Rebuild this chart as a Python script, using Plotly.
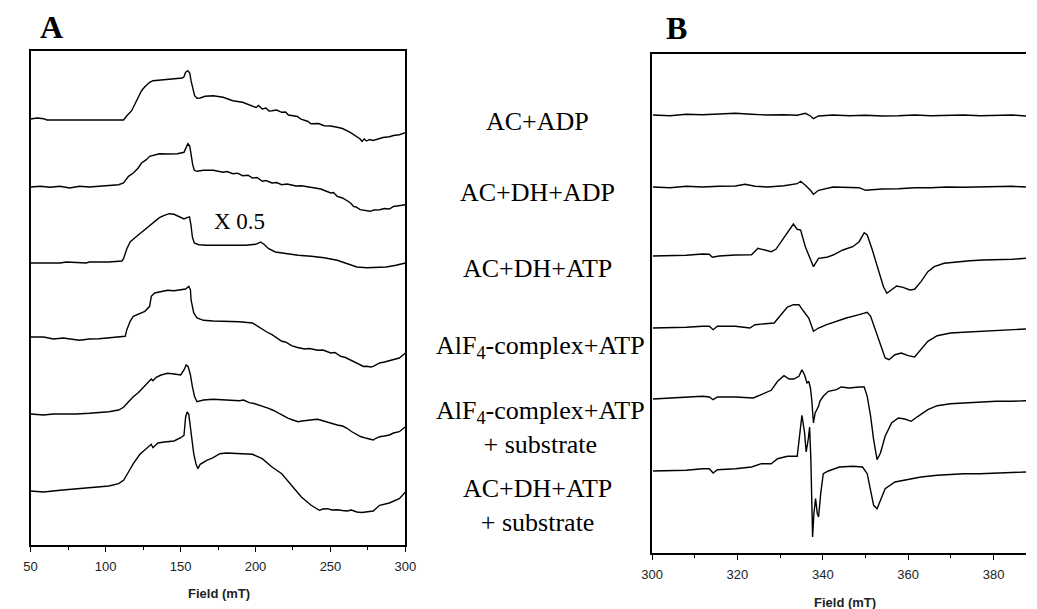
import plotly.graph_objects as go

# ---------------- Panel A (field in mT, signal in arbitrary units) ----------------
a1_field = [50.0, 54.4, 58.7, 60.9, 112.0, 114.2, 117.4, 119.6, 121.8, 124.0, 126.2, 129.4, 131.6, 137.0, 143.6, 149.0,
            151.2, 152.3, 153.4, 154.9, 156.2, 157.0, 158.4, 159.4, 161.0, 163.1, 166.4, 171.8, 178.4, 184.9, 191.4,
            198.0, 200.5, 202.0, 204.5, 207.0, 209.0, 211.0, 214.0, 217.5, 220.0, 222.0, 224.1, 228.0, 230.0, 232.8,
            235.0, 237.0, 239.3, 242.0, 245.8, 250.0, 254.5, 258.0, 263.2, 266.0, 269.8, 271.0, 272.5, 274.1, 276.0,
            278.5, 282.8, 285.0, 289.3, 292.0, 295.9, 300.0]
a1_sig = [1, 2, 1.3, 0, 0, 4.3, 9.3, 16, 22.7, 29.3, 33.3, 37.7, 39.3, 40, 40.3, 41,
          42, 43.3, 47.7, 49.3, 46.7, 39.3, 29.3, 24.3, 21.7, 22, 23.7, 24.3, 22.7, 19.3, 17.7,
          14.3, 12.5, 14.5, 11, 12, 9, 9.3, 10, 7.7, 8, 5, 4.3, 3.5, 1, -0.7,
          -1.5, -3.8, -4, -3.5, -5.7, -6, -7.3, -8.5, -12.3, -15, -19, -21.5, -19, -21, -19.5,
          -20.5, -18, -17.5, -16.7, -15.5, -14.7, -12.7]

a2_field = [50.0, 56.5, 63.1, 69.6, 76.1, 82.6, 89.2, 95.7, 102.2, 108.7, 112.0, 115.3, 118.5, 121.8, 124.0, 127.2,
            129.4, 132.7, 135.9, 141.4, 147.9, 152.3, 153.4, 154.9, 156.2, 157.0, 158.1, 159.2, 161.0, 165.3, 171.8,
            178.4, 181.0, 184.9, 188.0, 191.4, 195.0, 198.0, 201.0, 204.5, 207.0, 211.0, 214.0, 217.5, 221.0, 224.1,
            227.0, 230.6, 234.0, 237.1, 240.0, 243.6, 246.0, 250.2, 252.0, 254.5, 258.0, 261.1, 263.0, 265.4, 267.0,
            269.8, 273.0, 276.3, 279.0, 282.8, 286.0, 289.3, 292.0, 295.9, 300.0]
a2_sig = [0, 0.7, -0.3, 0.7, -1, 0.7, 0, 0.7, 1.3, 2.3, 4, 10.7, 14, 19, 24, 27.3,
          30.7, 32.3, 33.3, 33, 33.3, 34.7, 39, 43.3, 40.7, 32.3, 22.3, 16.7, 15.7, 16.7, 16.7,
          14.7, 15.5, 13.3, 13.8, 11.3, 11.8, 9, 9.5, 5.7, 6.5, 4, 4.5, 2.3, 3, 2,
          1, 1.3, 0.3, 0, -1, -2, -3.5, -6, -5.5, -9.3, -11, -14.3, -15.5, -19.3, -20,
          -22.7, -23.5, -24.3, -23, -22.7, -21.5, -22, -19.5, -18.7, -17.7]

a3_field = [50.0, 58.7, 69.6, 73.9, 80.5, 87.0, 89.2, 102.2, 110.9, 112.0, 114.2, 116.4, 119.6, 122.9, 126.2, 129.4,
            132.7, 135.9, 139.2, 142.5, 145.7, 149.0, 152.3, 154.4, 156.0, 157.0, 157.9, 159.2, 162.1, 167.5, 176.2,
            184.9, 193.6, 200.1, 203.4, 205.6, 208.8, 213.2, 219.7, 228.4, 237.1, 245.8, 254.5, 261.1, 267.6, 274.1,
            280.5, 287.2, 293.7, 300.0]
a3_sig = [0, 0, 0, 1, 0.7, 0, 1, 1, 2, 4.3, 14.3, 21, 25.3, 29.3, 32.7, 36.7,
          41, 45.3, 47.7, 49.3, 48.7, 46.7, 44, 45.3, 46, 37.7, 26, 20, 18.3, 17.7, 17.7,
          17.7, 17.7, 18.7, 21, 18.7, 14.3, 11, 9.3, 7.7, 6.7, 5.3, 2.7, -0.7, -4, -4.7,
          -4, -4, -2.3, 0]

a4_field = [50.0, 58.7, 65.2, 71.8, 82.6, 89.2, 95.7, 102.2, 108.7, 113.1, 114.2, 116.4, 118.5, 122.9, 126.2, 129.4,
            130.5, 132.7, 137.0, 141.4, 145.7, 150.1, 153.4, 155.5, 156.6, 157.0, 157.9, 158.8, 161.0, 165.3, 171.8,
            180.5, 189.3, 198.0, 201.0, 204.5, 207.0, 211.0, 214.0, 217.5, 220.0, 224.1, 228.0, 232.8, 236.0, 241.5,
            245.0, 250.2, 253.0, 256.7, 260.0, 263.2, 266.0, 269.8, 272.0, 274.1, 277.0, 278.5, 282.8, 286.0, 289.3,
            292.0, 295.9, 300.0]
a4_sig = [0, 0, -2, -1, -3.3, -2, -1.7, -1, 0, 0.7, 7.3, 15.7, 20.7, 23.3, 25.7, 30.7,
          40.7, 44, 45.7, 46.7, 46.3, 47.3, 48, 50.7, 47.3, 37.3, 30.7, 24, 19, 16.7, 16,
          15.7, 15.3, 14, 11, 8, 5.5, 2.3, -1, -4.3, -5, -8.7, -10.5, -12, -11.5, -13.3,
          -13, -16, -15.5, -19.3, -20.5, -22.7, -25, -27.7, -29.5, -29.3, -30, -29.3, -26, -25, -23.7,
          -22.5, -21, -16]

a5_field = [50.0, 58.7, 65.2, 71.8, 80.5, 89.2, 95.7, 102.2, 108.7, 112.0, 115.3, 118.5, 121.8, 125.1, 128.3, 130.5,
            131.6, 133.8, 137.0, 141.4, 145.7, 150.1, 152.3, 153.8, 155.1, 156.6, 157.9, 159.4, 161.0, 165.3, 171.8,
            180.5, 189.3, 192.0, 195.8, 199.0, 202.3, 205.0, 208.8, 212.0, 215.4, 218.0, 221.9, 225.0, 228.4, 231.0,
            234.9, 238.0, 241.5, 244.0, 248.0, 251.0, 254.5, 258.0, 261.1, 264.0, 267.6, 270.0, 274.1, 276.0, 278.5,
            280.0, 282.8, 286.0, 289.3, 292.0, 295.9, 300.0]
a5_sig = [0, -1, 0, -0.3, 0, 0.7, 1.3, 2.3, 4, 6.7, 12.3, 17.3, 21.3, 26.7, 31.3, 35,
          33.3, 36.7, 39, 40.7, 40, 39, 44, 49, 47.3, 39, 27.3, 17.3, 12.3, 14, 14.7,
          14, 13.3, 14, 11.3, 10.5, 9, 8, 5.7, 3.5, 0.7, -1.5, -4.3, -6, -7.7, -7,
          -6, -5.8, -5.3, -6.5, -7.7, -9.5, -11, -12, -14.3, -17.5, -21, -22.5, -24.3, -25, -26,
          -24.5, -22.7, -22, -21, -19, -17.7, -12.7]

a6_field = [50.0, 58.7, 69.6, 80.5, 91.3, 102.2, 108.7, 112.0, 115.3, 118.5, 122.9, 127.2, 130.5, 131.6, 134.9, 139.2,
            145.7, 150.1, 152.3, 153.4, 154.4, 155.5, 156.6, 157.7, 158.8, 160.3, 161.6, 163.1, 167.5, 171.8, 176.2,
            180.5, 189.3, 198.0, 204.5, 211.0, 217.5, 224.1, 230.6, 237.1, 242.6, 245.0, 248.0, 251.0, 254.5, 258.0,
            261.1, 264.0, 267.6, 271.0, 274.1, 278.5, 282.8, 289.3, 295.9, 300.0]
a6_sig = [0, -1, 0.7, 2.3, 3.3, 5, 7.3, 10.7, 19, 27.3, 36.7, 42.3, 46.7, 43.3, 48, 49,
          50, 53.3, 55.7, 74, 79, 76.7, 62.3, 50.7, 37.3, 27.3, 22.3, 26.7, 30.7, 33.3, 37.3,
          38, 37.3, 36.7, 32.3, 24, 17.3, 5.7, -6, -14.3, -19.3, -18, -17.7, -19, -18.7, -19.5,
          -20, -19, -21, -21.5, -21, -20, -14.3, -12, -7.7, -1]

a_fields = [a1_field, a2_field, a3_field, a4_field, a5_field, a6_field]
a_signals = [a1_sig, a2_sig, a3_sig, a4_sig, a5_sig, a6_sig]
a_offsets = [425, 358, 282, 208, 131, 54]

# ---------------- Panel B ----------------
b1_field = [300.2, 304.2, 308.0, 311.8, 315.7, 319.5, 323.3, 327.1, 330.9, 334.0, 335.9, 337.1, 337.8, 339.0,
            342.4, 346.2, 350.0, 353.9, 357.7, 361.5, 365.3, 369.1, 373.0, 376.8, 380.6, 384.4, 387.6]
b1_sig = [0, -0.7, 0.7, 0.3, 1, 1.7, 0.7, 0, 0.3, -0.3, 1.7, -1, -3.7, -1,
          0, -0.7, -0.3, -1, -0.7, 0, -0.7, -0.3, 0, -0.7, -0.3, 0, -1]

b2_field = [300.2, 304.2, 308.0, 311.8, 315.7, 319.5, 321.8, 324.1, 327.1, 330.9, 334.0, 334.8, 335.9, 337.1,
            337.8, 339.0, 342.4, 346.2, 348.5, 350.0, 353.9, 357.7, 361.5, 365.3, 369.1, 373.0, 376.8, 380.6,
            384.4, 387.6]
b2_sig = [0, -0.7, 0.7, 0, 0.7, 1, 2.7, 0.7, 0, 1.3, 3.3, 5.7, 1.7, -3.3,
          -7.3, -3.3, 0, 0, -0.7, -3.3, -2, -1.7, -0.7, -0.7, 0, -0.3, 0, 0,
          0.7, 0]

b3_field = [300.2, 304.2, 308.0, 311.8, 313.4, 314.1, 315.7, 319.5, 323.3, 324.8, 326.4, 327.9, 329.0, 330.2,
            331.7, 333.1, 334.0, 334.8, 335.9, 337.1, 337.8, 339.0, 340.9, 342.4, 344.7, 347.0, 348.5, 349.7,
            350.4, 351.6, 353.1, 354.2, 355.0, 356.1, 357.3, 358.8, 360.4, 361.5, 363.0, 364.6, 366.1, 368.4,
            371.4, 374.5, 377.5, 380.6, 384.4, 387.6]
b3_sig = [0, 0, 0.7, 2, 1.7, -1.3, 0, 1, 1.3, 7.7, 6, 4.3, 6.7, 14.3,
          24.3, 32, 26.7, 26, 9.3, -4, -10.7, -2.3, -1.3, 1, 6, 9.3, 14.3, 23.3,
          21, 6, -14, -30.7, -37.3, -34, -30, -31.3, -34, -33.3, -25.7, -15.7, -10.7, -7.3,
          -5.7, -4.7, -4, -4, -3.3, -2.3]

b4_field = [300.2, 304.2, 308.0, 311.8, 313.4, 314.3, 315.3, 319.5, 322.9, 324.1, 327.1, 328.6, 330.2, 331.7,
            333.1, 334.4, 335.5, 336.7, 337.8, 339.0, 340.9, 343.2, 345.5, 348.5, 350.4, 351.2, 352.3, 353.5,
            354.6, 355.5, 356.9, 358.4, 360.0, 361.5, 363.0, 364.6, 366.8, 369.9, 373.0, 376.8, 380.6, 384.4,
            387.6]
b4_sig = [0, 0.3, 0.7, 1.7, 1.7, -1.7, 1.7, 1.7, 0, 3.3, 4.3, 5, 13.3, 21,
          23.3, 23.3, 16.7, 10, -3.3, 0, 3.3, 6.7, 10, 13.3, 15.7, 11.7, -1.7, -15,
          -30, -31.7, -26.7, -25, -27.7, -29, -21.7, -13.3, -7.7, -5, -4.3, -3.3, -2.3, -1.7,
          -1]

b5_field = [300.2, 304.2, 308.0, 311.8, 313.4, 314.3, 315.3, 319.5, 323.7, 325.6, 327.9, 329.4, 330.9, 332.1,
            333.2, 334.4, 335.1, 335.7, 336.3, 336.7, 337.1, 337.4, 337.8, 338.2, 338.6, 339.0, 339.3, 340.1,
            341.3, 343.2, 344.3, 346.2, 348.5, 349.7, 350.4, 351.2, 351.9, 352.7, 353.5, 354.6, 356.1, 357.7,
            359.2, 360.7, 362.3, 364.6, 366.8, 369.9, 373.0, 376.8, 380.6, 384.4, 387.6]
b5_sig = [0, 0.7, 1.3, 2.7, 2, -0.7, 2, 2, 1, 4.3, 8.7, 17.7, 23.3, 20,
          20, 22.7, 29.3, 24.3, 16, 17.7, 11, -0.7, -24, -14, -10.7, -7.3, -2.3, 2.7,
          7.7, 9.3, 12, 11, 12, 12, 2.7, -17.3, -40.7, -60.7, -54, -37.3, -24, -19,
          -20, -22.3, -17.3, -10.7, -6.7, -4.7, -4, -3, -2.3, -2.3, -1.7]

b6_field = [300.2, 304.2, 308.0, 311.8, 313.4, 314.3, 315.3, 319.5, 323.3, 325.6, 327.9, 329.4, 331.7, 334.0,
            334.6, 335.1, 335.7, 336.1, 336.6, 336.9, 337.2, 337.6, 337.9, 338.3, 338.7, 339.0, 339.5, 340.1,
            341.3, 343.9, 347.0, 349.3, 350.4, 351.2, 351.9, 352.7, 353.5, 354.6, 356.9, 360.0, 363.0, 366.8,
            369.9, 373.0, 376.8, 380.6, 384.4, 387.6]
b6_sig = [0, 0, 0.7, 2.3, 2.3, -2, 1.3, 2.3, 4, 7.3, 7.3, 12.3, 14.7, 14.7,
          37.3, 55.7, 39, 19, 32.3, 44, 10.7, -66, -42.7, -27.7, -42.7, -46, -22.7, -2.7,
          0, 4, 4.7, 4, -2.7, -19.3, -34.3, -37.7, -29.3, -17.7, -11, -8.7, -6, -4.3,
          -3.3, -2.7, -2.7, -2, -2, -1]

b_fields = [b1_field, b2_field, b3_field, b4_field, b5_field, b6_field]
b_signals = [b1_sig, b2_sig, b3_sig, b4_sig, b5_sig, b6_sig]
b_offsets = [438, 366, 297, 225, 154, 82]

labels = ["AC+ADP", "AC+DH+ADP", "AC+DH+ATP", "AlF<sub>4</sub>-complex+ATP",
          "AlF<sub>4</sub>-complex+ATP<br>+ substrate", "AC+DH+ATP<br>+ substrate"]

a_ticks = [50, 100, 150, 200, 250, 300]
b_ticks = [300, 320, 340, 360, 380]

W, H = 1037, 609
SERIF = "Liberation Serif, Times New Roman, serif"
SANS = "Liberation Sans, Arial, sans-serif"

fig = go.Figure()
for f, s, off in zip(a_fields, a_signals, a_offsets):
    fig.add_trace(go.Scatter(x=f, y=[v + off for v in s], mode="lines",
                             line=dict(color="black", width=1.4), xaxis="x", yaxis="y",
                             showlegend=False, hoverinfo="skip"))
for f, s, off in zip(b_fields, b_signals, b_offsets):
    fig.add_trace(go.Scatter(x=f, y=[v + off for v in s], mode="lines",
                             line=dict(color="black", width=1.4), xaxis="x2", yaxis="y2",
                             showlegend=False, hoverinfo="skip"))

xcommon = dict(showline=True, linecolor="black", linewidth=1.5, ticks="outside", ticklen=5,
               tickwidth=1, tickcolor="black", showgrid=False, zeroline=False,
               tickfont=dict(family=SANS, size=13, color="#222"), ticklabelstandoff=4)
ycommon = dict(showline=True, linecolor="black", linewidth=1.5, showticklabels=False,
               ticks="", showgrid=False, zeroline=False)

fig.update_layout(
    width=W, height=H, margin=dict(l=0, r=0, t=0, b=0),
    paper_bgcolor="white", plot_bgcolor="white",
    xaxis=dict(domain=[20 / W, 403 / W], range=[50, 300], tickvals=a_ticks, mirror=True,
               minor=dict(dtick=25, ticks="outside", ticklen=3, tickcolor="black", tickwidth=1),
               anchor="y", **xcommon),
    yaxis=dict(domain=[(H - 545) / H, (H - 51) / H], range=[0, 494], mirror=True,
               anchor="x", **ycommon),
    xaxis2=dict(domain=[655 / W, 1.0], range=[300, 387.6], tickvals=b_ticks, mirror=True,
                minor=dict(dtick=10, ticks="outside", ticklen=3, tickcolor="black", tickwidth=1),
                anchor="y2", **xcommon),
    yaxis2=dict(domain=[(H - 553) / H, (H - 54) / H], range=[0, 499], mirror=False,
                anchor="x2", **ycommon),
)

ann = []
# panel letters
ann.append(dict(text="<b>A</b>", x=41 / W, y=1 - 27 / H, xref="paper", yref="paper",
                showarrow=False, xanchor="center", yanchor="middle",
                font=dict(family=SERIF, size=32, color="black")))
ann.append(dict(text="<b>B</b>", x=680 / W, y=1 - 28 / H, xref="paper", yref="paper",
                showarrow=False, xanchor="center", yanchor="middle",
                font=dict(family=SERIF, size=32, color="black")))
# axis titles
ann.append(dict(text="<b>Field (mT)</b>", x=212 / W, y=1 - 593 / H, xref="paper", yref="paper",
                showarrow=False, xanchor="center", yanchor="middle",
                font=dict(family=SANS, size=13, color="#222")))
ann.append(dict(text="<b>Field (mT)</b>", x=852 / W, y=1 - 602 / H, xref="paper", yref="paper",
                showarrow=False, xanchor="center", yanchor="middle",
                font=dict(family=SANS, size=13, color="#222")))
# x 0.5 note
ann.append(dict(text="X 0.5", x=233 / W, y=1 - 221 / H, xref="paper", yref="paper",
                showarrow=False, xanchor="center", yanchor="middle",
                font=dict(family=SERIF, size=23, color="black")))
# sample labels
label_pos = [(538, 122), (538, 192), (538, 268), (541, 347), (541, 427), (538, 505)]
for t, (px, py) in zip(labels, label_pos):
    ann.append(dict(text=t, x=px / W, y=1 - py / H, xref="paper", yref="paper",
                    showarrow=False, xanchor="center", yanchor="middle", align="center",
                    font=dict(family=SERIF, size=26, color="black")))
fig.update_layout(annotations=ann)

fig.write_html("out.html")
